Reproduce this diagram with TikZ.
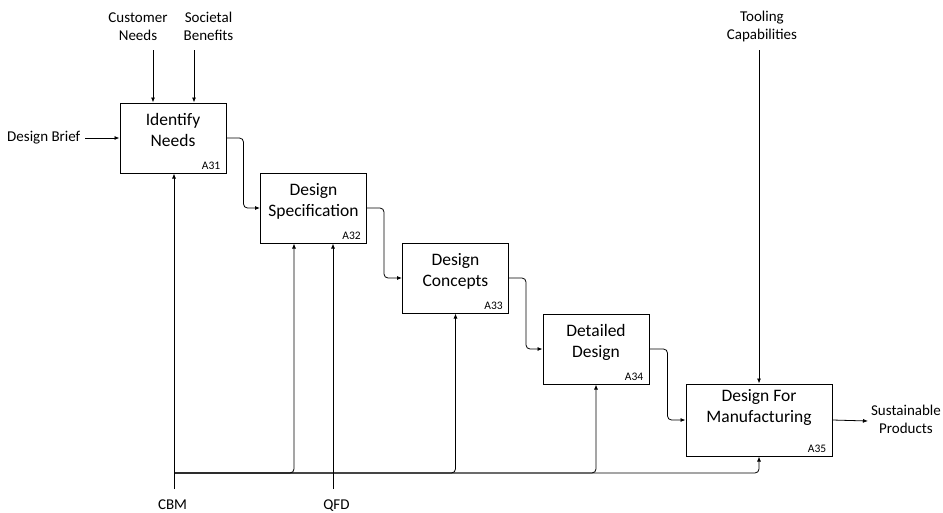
\documentclass[tikz,border=0pt]{standalone}
\usepackage{fontspec}
\setmainfont{Carlito}
\usetikzlibrary{arrows.meta, positioning}
\tikzset{
    func/.style={draw, line width=1pt, minimum width=106pt, minimum height=70pt, inner sep=0pt},
    ttl/.style={anchor=base, align=center, inner sep=0pt, font=\fontsize{17.5}{21}\selectfont},
    code/.style={anchor=base east, inner sep=0pt, font=\fontsize{11.5}{12}\selectfont},
    lbl/.style={anchor=base, align=center, inner sep=0pt, font=\fontsize{15}{17.5}\selectfont},
    flow/.style={-{Latex[length=5pt,width=4pt]}, line width=0.8pt, rounded corners=4pt},
}

\begin{document}
\begin{tikzpicture}[x=1pt,y=-1pt]
\useasboundingbox (0,0) rectangle (943,512);
% activity boxes
\node[func] (A31) at (173,138) {};
\node[func] (A32) at (313.5,208) {};
\node[func] (A33) at (455.5,278) {};
\node[func] (A34) at (596,349) {};
\node[func, minimum width=146pt, minimum height=72pt] (A35) at (759,420) {};
% base of a two-line node = last line
\node[ttl] at ([yshift=-44pt]A31.north) {Identify\\Needs};
\node[ttl] at ([yshift=-44pt]A32.north) {Design\\Specification};
\node[ttl] at ([yshift=-44pt]A33.north) {Design\\Concepts};
\node[ttl] at ([yshift=-44pt]A34.north) {Detailed\\Design};
\node[ttl] at ([yshift=-39pt]A35.north) {Design For\\Manufacturing};
\node[code] at ([xshift=-6pt,yshift=4pt]A31.south east) {A31};
\node[code] at ([xshift=-6pt,yshift=4pt]A32.south east) {A32};
\node[code] at ([xshift=-6pt,yshift=4pt]A33.south east) {A33};
\node[code] at ([xshift=-6pt,yshift=4pt]A34.south east) {A34};
\node[code] at ([xshift=-6pt,yshift=4pt]A35.south east) {A35};

% inputs and controls
\node[lbl] (cn) at (138,40.2) {Customer\\Needs};
\node[lbl] (sb) at (208.5,40.2) {Societal\\Benefits};
\node[lbl] (tc) at (762,39.2) {Tooling\\Capabilities};
\node[lbl, anchor=base west] (db) at (7,141.7) {Design Brief};
\coordinate (cnIn) at (153,50);
\coordinate (sbIn) at (194,50);
\coordinate (tcIn) at (759,50);
\draw[flow] (cnIn) -- (cnIn |- A31.north);
\draw[flow] (sbIn) -- (sbIn |- A31.north);
\draw[flow] (tcIn) -- (tcIn |- A35.north);
\draw[flow] ([xshift=5pt]db.east |- A31.west) -- (A31.west);

% flow between activities
\draw[flow] (A31.east) -- ++(17,0) |- (A32.west);
\draw[flow] (A32.east) -- ++(17,0) |- (A33.west);
\draw[flow] (A33.east) -- ++(17,0) |- (A34.west);
\draw[flow] (A34.east) -- ++(18,0) |- (A35.west);

% output
\node[lbl] (sp) at (906,433) {Sustainable\\Products};
\coordinate (spIn) at (868,421);
\draw[flow] (A35.east) -- (spIn);

% mechanisms
\node[lbl] (cbm) at (172.5,509) {CBM};
\node[lbl] (qfd) at (336.5,509) {QFD};
\coordinate (cbmOut) at (174,489);
\coordinate (cbmJ) at (174,473);
\coordinate (qfdOut) at (333,489);
\draw[flow] (cbmOut) -- (cbmOut |- A31.south);
\draw[flow] (cbmJ) -| ([xshift=-19.5pt]A32.south);
\draw[flow] (cbmJ) -| (A33.south);
\draw[flow] (cbmJ) -| (A34.south);
\draw[flow] (cbmJ) -| (A35.south);
\draw[flow] (qfdOut) -- (qfdOut |- A32.south);
\end{tikzpicture}
\end{document}
